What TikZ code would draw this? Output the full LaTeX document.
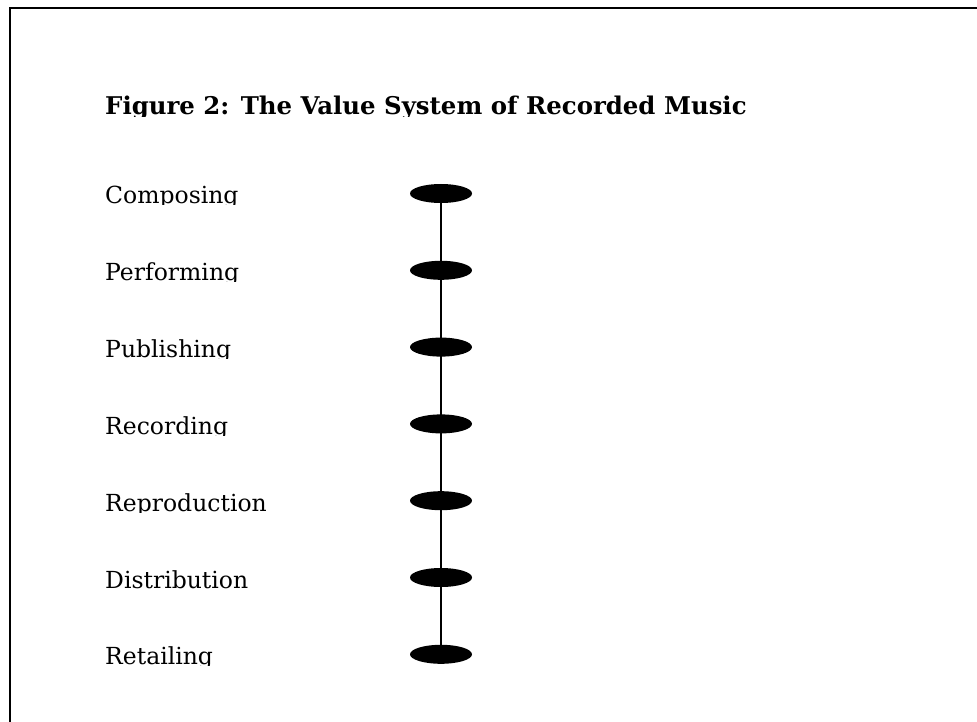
\documentclass[tikz,border=0pt]{standalone}
\usepackage{fontspec}
\setmainfont{DejaVu Serif}
\usetikzlibrary{shapes.geometric}
\begin{document}
\begin{tikzpicture}[x=1pt,y=-1pt,
  lab/.style={anchor=base west,inner sep=0pt,font=\fontsize{23.5}{27}\selectfont},
  ttl/.style={anchor=base west,inner sep=0pt,font=\fontsize{24.4}{28}\selectfont\bfseries},
  dot/.style={ellipse,fill=black,minimum width=62pt,minimum height=19pt,inner sep=0pt},
  conn/.style={line width=1.6pt}]
\useasboundingbox (0,0) rectangle (977,722);
\fill[white] (0,0) rectangle (977,722);
\draw[line width=2.4pt] (10,722) -- (10,8) -- (977,8);
\begin{scope}
\clip (0,0) rectangle (977,117);
\node[ttl] (title) at (105,115) {Figure 2: The Value System of Recorded Music};
\end{scope}
\foreach \i/\t in {0/Composing,1/Performing,2/Publishing,3/Recording,4/Reproduction,5/Distribution,6/Retailing}{
  \pgfmathsetmacro{\yy}{193.5+76.8*\i}
  \begin{scope}
  \clip (100,\yy-40) rectangle (400,\yy+11.5);
  \node[lab] (l\i) at (105,\yy+10.5) {\t};
  \end{scope}
}
\draw[conn] (441,193.5) coordinate (top) -- (441,654.3) coordinate (bot);
\foreach \i in {0,...,6}{
  \node[dot] (e\i) at (441,193.5+76.8*\i) {};
}
\end{tikzpicture}
\end{document}
